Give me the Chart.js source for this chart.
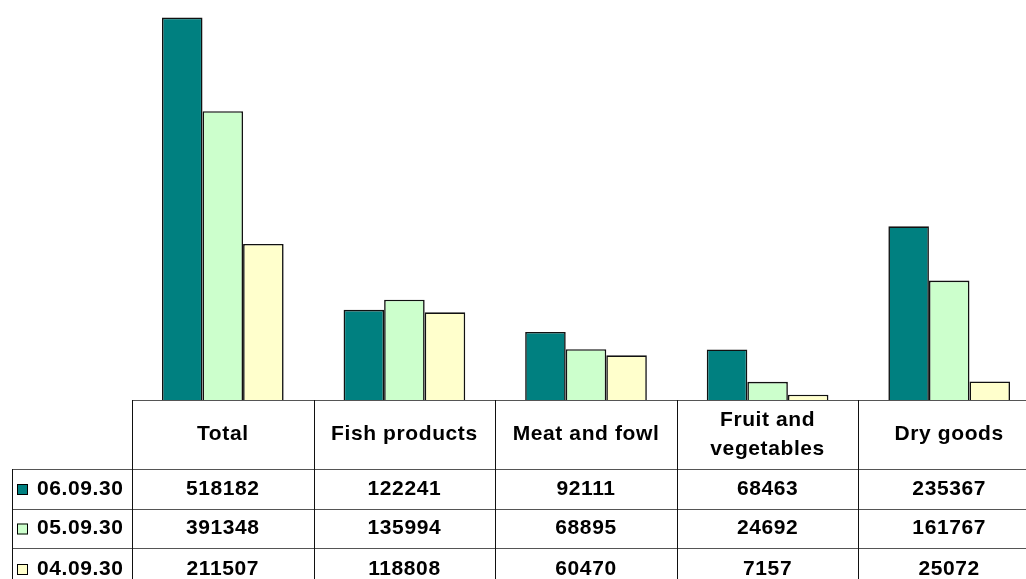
<!DOCTYPE html>
<html>
<head>
<meta charset="utf-8">
<script src="https://cdn.jsdelivr.net/npm/chart.js@4.4.0/dist/chart.umd.min.js"></script>
<style>
    html, body { margin: 0; padding: 0; background: #fff; overflow: hidden; }
    #wrap { width: 1040px; height: 579px; }
</style>
</head>
<body>
<div id="wrap"><canvas id="chart" width="1040" height="579"></canvas></div>
<script>
const categories = ['Total', 'Fish products', 'Meat and fowl', ['Fruit and', 'vegetables'], 'Dry goods'];
const seriesNames = ['06.09.30', '05.09.30', '04.09.30'];
const values0609 = [518182, 122241, 92111, 68463, 235367];
const values0509 = [391348, 135994, 68895, 24692, 161767];
const values0409 = [211507, 118808, 60470, 7157, 25072];
const colors = ['#008080', '#CCFFCC', '#FFFFCC'];

const FONT = 'bold 21px "Liberation Sans", Arial, sans-serif';

// data table under the bars, drawn from the x scale
const tablePlugin = {
    id: 'dataTable',
    afterDraw(chart) {
        const ctx = chart.ctx;
        const area = chart.chartArea;
        const xs = chart.scales.x;
        const colW = (area.right - area.left) / categories.length;
        const top = area.bottom;
        const rows = [top, 469, 509, 548, 590];
        const legendLeft = 12;

        ctx.save();
        ctx.lineWidth = 1;

        // horizontal lines (greyish in the original)
        ctx.strokeStyle = '#555';
        ctx.beginPath();
        ctx.moveTo(area.left, top + 0.5);
        ctx.lineTo(chart.width, top + 0.5);
        for (let i = 1; i < rows.length - 1; i++) {
            ctx.moveTo(legendLeft, rows[i] + 0.5);
            ctx.lineTo(chart.width, rows[i] + 0.5);
        }
        ctx.stroke();

        // vertical lines
        ctx.strokeStyle = '#111';
        ctx.beginPath();
        ctx.moveTo(legendLeft + 0.5, rows[1]);
        ctx.lineTo(legendLeft + 0.5, chart.height);
        for (let i = 0; i <= categories.length; i++) {
            const x = Math.round(area.left + i * colW) + 0.5;
            ctx.moveTo(x, top);
            ctx.lineTo(x, chart.height);
        }
        ctx.stroke();

        ctx.fillStyle = '#000';
        ctx.font = FONT;
        ctx.letterSpacing = '0.6px';
        ctx.textAlign = 'center';
        ctx.textBaseline = 'middle';

        // header labels
        const headMid = (rows[0] + rows[1]) / 2;
        categories.forEach((c, i) => {
            const x = xs.getPixelForValue(i);
            if (Array.isArray(c)) {
                ctx.fillText(c[0], x, headMid - 14);
                ctx.fillText(c[1], x, headMid + 15);
            } else {
                ctx.fillText(c, x, headMid);
            }
        });

        // value rows + legend keys
        chart.data.datasets.forEach((ds, r) => {
            const y = (rows[r + 1] + rows[r + 2]) / 2;
            ds.data.forEach((v, i) => {
                ctx.fillText(String(v), xs.getPixelForValue(i), y);
            });
            ctx.fillStyle = ds.backgroundColor;
            ctx.fillRect(17, y - 5, 11, 11);
            ctx.strokeStyle = '#000';
            ctx.strokeRect(17.5, y - 4.5, 10, 10);
            ctx.fillStyle = '#000';
            ctx.textAlign = 'left';
            ctx.fillText(ds.label, 37, y);
            ctx.textAlign = 'center';
        });
        ctx.restore();
    }
};

const seriesValues = [values0609, values0509, values0409];

new Chart(document.getElementById('chart').getContext('2d'), {
    type: 'bar',
    data: {
        labels: categories,
        datasets: seriesNames.map((name, i) => ({
            label: name,
            data: seriesValues[i],
            backgroundColor: colors[i],
            borderColor: '#111',
            borderWidth: 1.6,
            categoryPercentage: 0.67,
            barPercentage: 1.0
        }))
    },
    options: {
        responsive: false,
        animation: false,
        layout: { padding: { left: 132, right: 0, top: 0, bottom: 179 } },
        plugins: {
            legend: { display: false },
            tooltip: { enabled: false }
        },
        scales: {
            x: { display: false },
            y: { display: false, min: 0, max: 542000 }
        }
    },
    plugins: [tablePlugin]
});
</script>
</body>
</html>
